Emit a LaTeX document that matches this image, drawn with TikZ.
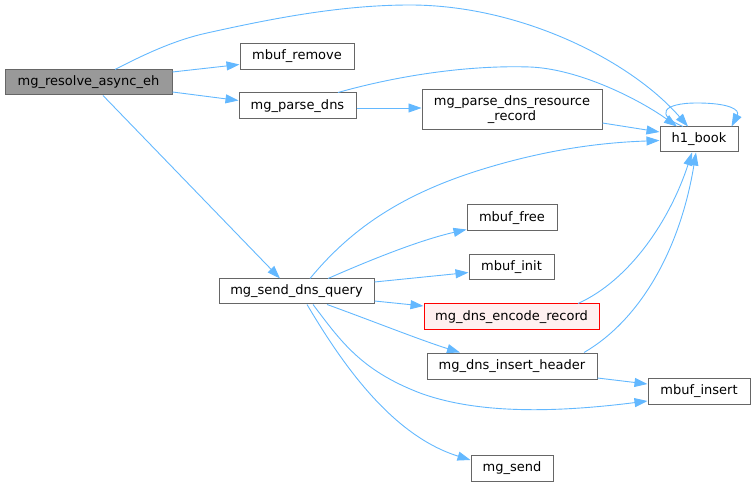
\documentclass[tikz,border=0pt]{standalone}
\usepackage{fontspec}
\setmainfont{DejaVu Sans}
\usetikzlibrary{arrows.meta,calc}
\definecolor{edgeblue}{HTML}{63B8FF}
\definecolor{boxgray}{HTML}{666666}
\definecolor{rootfill}{HTML}{999999}
\definecolor{redfill}{HTML}{FFF0F0}
\begin{document}
\begin{tikzpicture}[x=1pt,y=-1pt,
  fn/.style={draw=boxgray, line width=1pt, fill=white, inner sep=0pt, align=center,
    font=\fontsize{13}{15}\selectfont},
  root/.style={fn, fill=rootfill},
  redbox/.style={fn, draw=red, fill=redfill},
  call/.style={draw=edgeblue, line width=0.9pt, -{Triangle[length=13pt,width=9pt]}, fill=none}
]
\useasboundingbox (0,0) rectangle (755,486);

\node[root, minimum width=167pt, minimum height=25pt] (resolve) at (88.5,82.5) {mg\_resolve\_async\_eh};
\node[fn, minimum width=114pt, minimum height=26pt] (remove) at (297,56.5) {mbuf\_remove};
\node[fn, minimum width=117pt, minimum height=26pt] (parse) at (297.5,106) {mg\_parse\_dns};
\node[fn, minimum width=180pt, minimum height=40pt] (resource) at (512,110) {mg\_parse\_dns\_resource\\\_record};
\node[fn, minimum width=78pt, minimum height=25pt] (book) at (699,139.5) {h1\_book};
\node[fn, minimum width=155pt, minimum height=25pt] (query) at (296.5,291.5) {mg\_send\_dns\_query};
\node[fn, minimum width=90pt, minimum height=26pt] (free) at (512,218) {mbuf\_free};
\node[fn, minimum width=85pt, minimum height=25pt] (init) at (511.5,267.5) {mbuf\_init};
\node[redbox, minimum width=175pt, minimum height=26pt] (encode) at (511.5,317) {mg\_dns\_encode\_record};
\node[fn, minimum width=170pt, minimum height=26pt] (header) at (512,366) {mg\_dns\_insert\_header};
\node[fn, minimum width=102pt, minimum height=26pt] (insert) at (699,391) {mbuf\_insert};
\node[fn, minimum width=82pt, minimum height=26pt] (send) at (512,468) {mg\_send};

% resolve edges
\draw[call] ($(resolve.north)+(26.5,0)$) .. controls (145,54) and (175,40) .. (207,33)
  .. controls (270,19) and (340,5) .. (410,5)
  .. controls (520,5) and (630,60) .. ($(book.north)+(-11,0)$);
\draw[call] ($(resolve.east)+(0,-10.5)$) -- ($(remove.west)+(0,8)$);
\draw[call] ($(resolve.east)+(0,9.5)$) -- ($(parse.west)+(0,-5.5)$);
\draw[call] ($(resolve.south)+(14.5,0)$) -- ($(query.north)+(-16.5,0)$);

% parse_dns edges
\draw[call] ($(parse.north)+(40.5,0)$) .. controls (400,75) and (470,65) .. (530,67)
  .. controls (580,69) and (640,100) .. ($(book.north)+(-22,0)$);
\draw[call] ($(parse.east)+(0,2)$) -- ($(resource.west)+(0,-2)$);
\draw[call] ($(resource.east)+(0,13)$) -- ($(book.west)+(0,-7.5)$);

% self loop
\draw[call] ($(book.north)+(-16,0)$) .. controls (655,115) and (662,103) .. (697,103)
  .. controls (730,103) and (740,110) .. ($(book.north east)+(-7,0)$);

% send_dns_query edges
\draw[call] ($(query.north)+(13.5,0)$) .. controls (350,230) and (400,195) .. (480,170)
  .. controls (560,145) and (620,142) .. ($(book.west)+(0,1)$);
\draw[call] ($(query.north)+(31.5,0)$) .. controls (370,260) and (420,240) .. ($(free.south west)+(0,-2)$);
\draw[call] ($(query.east)+(0,-9.5)$) -- ($(init.west)+(0,5)$);
\draw[call] ($(query.east)+(0,9.5)$) -- ($(encode.west)+(0,-11)$);
\draw[call] ($(query.south)+(30.5,0)$) .. controls (370,320) and (420,340) .. ($(header.north)+(-52,0)$);
\draw[call] ($(query.south)+(16.5,0)$) .. controls (340,340) and (360,370) .. (420,393)
  .. controls (480,415) and (560,412) .. ($(insert.west)+(0,10)$);
\draw[call] ($(query.south)+(10.5,0)$) .. controls (340,360) and (390,435) .. ($(send.west)+(0,-8)$);

% to h1_book from below
\draw[call] ($(encode.north)+(66.5,0)$) .. controls (630,280) and (670,220) .. ($(book.south)+(-7,0)$);
\draw[call] ($(header.north)+(72,0)$) .. controls (640,320) and (680,250) .. ($(book.south)+(-3,0)$);
\draw[call] ($(header.east)+(0,12)$) -- ($(insert.west)+(0,-7)$);
\end{tikzpicture}
\end{document}
